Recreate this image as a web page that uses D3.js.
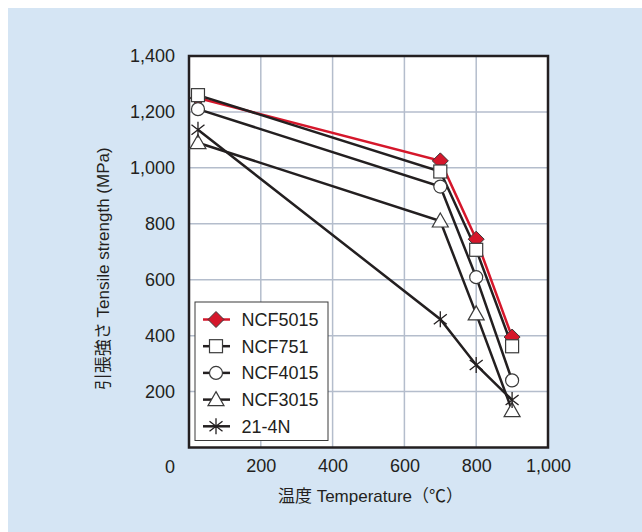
<!DOCTYPE html>
<html>
<head>
<meta charset="utf-8">
<script src="https://cdn.jsdelivr.net/npm/d3@7"></script>
<style>
  body { margin: 0; background: #fff; }
  svg { display: block; }
</style>
</head>
<body>
<svg id="chart"></svg>
<script>
// temperatures (°C) and tensile strength (MPa) per alloy
const temps = [25, 700, 800, 900];
const ncf5015 = [1250, 1025, 745, 395];
const ncf751 = [1260, 987, 707, 362];
const ncf4015 = [1210, 933, 609, 240];
const ncf3015 = [1090, 810, 478, 132];
const n21_4n = [1136, 459, 295, 170];

const names = ["NCF5015", "NCF751", "NCF4015", "NCF3015", "21-4N"];
const symbols = ["diamond", "square", "circle", "triangle", "asterisk"];
const xTicks = [200, 400, 600, 800, 1000];
const yTicks = [200, 400, 600, 800, 1000, 1200, 1400];

const series = [ncf5015, ncf751, ncf4015, ncf3015, n21_4n].map((vals, i) => ({
    name: names[i],
    symbol: symbols[i],
    values: vals.map((v, j) => ({ t: temps[j], v: v }))
}));

const width = 642;
const height = 532;
const marginTop = 56;
const marginRight = 94;
const marginBottom = 84.5;
const marginLeft = 189;

const ink = "#231f20";
const red = "#d5172b";
const font = "'Liberation Sans', Arial, 'Noto Sans CJK JP', sans-serif";

const x = d3.scaleLinear()
    .domain([0, 1000])
    .range([marginLeft, width - marginRight]);

const y = d3.scaleLinear()
    .domain([0, 1400])
    .range([height - marginBottom, marginTop]);

const svg = d3.select("#chart")
    .attr("width", width)
    .attr("height", height)
    .attr("viewBox", [0, 0, width, height])
    .style("font-family", font);

// light blue panel
svg.append("rect")
    .attr("x", 8).attr("y", 8)
    .attr("width", width - 8).attr("height", height - 8)
    .attr("fill", "#d5e5f4");

// plot area
svg.append("rect")
    .attr("x", x(0)).attr("y", y(1400))
    .attr("width", x(1000) - x(0)).attr("height", y(0) - y(1400))
    .attr("fill", "#fff");

// grid
const grid = svg.append("g")
    .attr("stroke", "#b4bdcc")
    .attr("stroke-width", 1.5);

grid.selectAll(".gx")
    .data(xTicks.filter(d => d < 1000))
    .join("line")
    .attr("x1", d => x(d)).attr("x2", d => x(d))
    .attr("y1", y(0)).attr("y2", y(1400));

grid.selectAll(".gy")
    .data(yTicks.filter(d => d < 1400))
    .join("line")
    .attr("y1", d => y(d)).attr("y2", d => y(d))
    .attr("x1", x(0)).attr("x2", x(1000));

// axes (labels only, no tick marks)
const gx = svg.append("g")
    .attr("transform", `translate(0,${y(0)})`)
    .call(d3.axisBottom(x).tickValues(xTicks).tickSize(0).tickPadding(12)
        .tickFormat(d3.format(",")))
    .call(g => g.select(".domain").remove());

const gy = svg.append("g")
    .attr("transform", `translate(${x(0)},0)`)
    .call(d3.axisLeft(y).tickValues(yTicks).tickSize(0).tickPadding(14)
        .tickFormat(d3.format(",")))
    .call(g => g.select(".domain").remove());

svg.selectAll(".tick text")
    .attr("fill", ink)
    .style("font-size", "18px")
    .style("font-family", font);

// shared zero in the corner
svg.append("text")
    .attr("x", x(0) - 19)
    .attr("y", y(0) + 25)
    .attr("text-anchor", "middle")
    .attr("fill", ink)
    .style("font-size", "18px")
    .text("0");

// frame
svg.append("rect")
    .attr("x", x(0)).attr("y", y(1400))
    .attr("width", x(1000) - x(0)).attr("height", y(0) - y(1400))
    .attr("fill", "none")
    .attr("stroke", ink)
    .attr("stroke-width", 2.5);

function drawSymbol(g, kind) {
    const stroke = "#3a3a3a";
    if (kind === "diamond") {
        g.append("path").attr("d", "M0,-8L8,0L0,8L-8,0Z")
            .attr("fill", red).attr("stroke", stroke).attr("stroke-width", 1);
    } else if (kind === "square") {
        g.append("rect").attr("x", -6.5).attr("y", -6.5).attr("width", 13).attr("height", 13)
            .attr("fill", "#fff").attr("stroke", stroke).attr("stroke-width", 1.2);
    } else if (kind === "circle") {
        g.append("circle").attr("r", 6.5)
            .attr("fill", "#fff").attr("stroke", stroke).attr("stroke-width", 1.2);
    } else if (kind === "triangle") {
        g.append("path").attr("d", "M0,-8L8,6L-8,6Z")
            .attr("fill", "#fff").attr("stroke", stroke).attr("stroke-width", 1.2);
    } else {
        g.append("path").attr("d", "M0,-8V8M-6.5,-5L6.5,5M-6.5,5L6.5,-5")
            .attr("fill", "none").attr("stroke", ink).attr("stroke-width", 1.3);
    }
}

const line = d3.line()
    .x(d => x(d.t))
    .y(d => y(d.v));

// lines first, markers on top, in series order
svg.append("g")
    .selectAll("path")
    .data(series)
    .join("path")
    .attr("d", d => line(d.values))
    .attr("fill", "none")
    .attr("stroke", d => d.symbol === "diamond" ? red : ink)
    .attr("stroke-width", 2.5);

series.forEach(s => {
    svg.append("g")
        .selectAll("g")
        .data(s.values)
        .join("g")
        .attr("transform", d => `translate(${x(d.t)},${y(d.v)})`)
        .each(function() { drawSymbol(d3.select(this), s.symbol); });
});

// legend
const legend = svg.append("g")
    .attr("transform", "translate(195,302)");

legend.append("rect")
    .attr("width", 133).attr("height", 138.5)
    .attr("fill", "#fff")
    .attr("stroke", "#3a3a3a")
    .attr("stroke-width", 1);

const item = legend.selectAll(".item")
    .data(series)
    .join("g")
    .attr("transform", (d, i) => `translate(21,${17.5 + i * 26.7})`);

item.append("line")
    .attr("x1", -13).attr("x2", 14)
    .attr("stroke", d => d.symbol === "diamond" ? red : ink)
    .attr("stroke-width", 2.5);

item.each(function(d) { drawSymbol(d3.select(this), d.symbol); });

item.append("text")
    .attr("x", 25.5)
    .attr("dy", "0.36em")
    .attr("fill", ink)
    .style("font-size", "18px")
    .text(d => d.name);

// axis titles
svg.append("text")
    .attr("transform", `translate(109,${(y(0) + y(1400)) / 2 + 17}) rotate(-90)`)
    .attr("text-anchor", "middle")
    .attr("fill", ink)
    .style("font-size", "17px")
    .text("引張強さ  Tensile strength (MPa)");

svg.append("text")
    .attr("x", (x(0) + x(1000)) / 2 + 2)
    .attr("y", 502)
    .attr("text-anchor", "middle")
    .attr("fill", ink)
    .style("font-size", "17px")
    .text("温度 Temperature（℃）");
</script>
</body>
</html>
